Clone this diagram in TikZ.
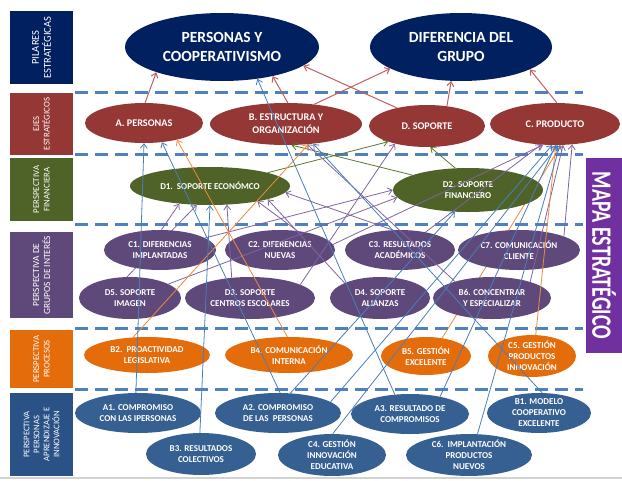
\documentclass[tikz,border=0pt]{standalone}
\usepackage{fontspec}
\setmainfont{Carlito}
\usetikzlibrary{shapes.geometric,arrows.meta}
\pgfdeclarelayer{background}
\pgfsetlayers{background,main}

\definecolor{pilarblue}{HTML}{002060}
\definecolor{ejered}{HTML}{953735}
\definecolor{finolive}{HTML}{4F6228}
\definecolor{grupopurple}{HTML}{5F497A}
\definecolor{procorange}{HTML}{E46C0A}
\definecolor{persblue}{HTML}{376092}
\definecolor{persbox}{HTML}{2A5286}
\definecolor{mapapurple}{HTML}{7030A0}
\definecolor{sepblue}{HTML}{4F81BD}
\definecolor{linkred}{HTML}{C0605E}
\definecolor{linkgreen}{HTML}{5A7A2A}
\definecolor{linkpurple}{HTML}{8064A2}
\definecolor{linkblue}{HTML}{4A7EBB}
\definecolor{linkorange}{HTML}{F08A3C}

\tikzset{
  band/.style={ % perspective label on the left
    rectangle, rotate=90, inner sep=1pt, text=white, align=center,
    font=\fontsize{8.8}{10.5}\selectfont
  },
  obj/.style={ % objective bubble
    ellipse, inner sep=0pt, text=white, align=center,
    font=\bfseries\fontsize{9}{11}\selectfont
  },
  eje/.style={obj, fill=ejered, font=\bfseries\fontsize{10.2}{13}\selectfont},
  pilar/.style={obj, fill=pilarblue, font=\bfseries\fontsize{15.5}{19}\selectfont},
  wh/.style 2 args={minimum width=#1pt, minimum height=#2pt},
  sep/.style={sepblue, line width=3pt, dash pattern=on 13pt off 7pt},
  link/.style={->, line width=0.8pt},
  lred/.style={link, linkred, line width=1pt},
  lgreen/.style={link, linkgreen},
  lpurple/.style={link, linkpurple},
  lblue/.style={link, linkblue},
  lorange/.style={link, linkorange}
}

\begin{document}
\begin{tikzpicture}[x=1pt, y=-1pt, >={Straight Barb[length=4.5pt,width=7pt]}]
  \useasboundingbox (0,0) rectangle (622,480);

  % perspectives
  \node[band, fill=pilarblue, wh={73}{63}, font=\fontsize{10.5}{12}\selectfont] (pilares) at (41.5,47.5) {PILARES\\ESTRATÉGICAS};
  \node[band, fill=ejered, wh={62}{63}] (ejes) at (41.5,124) {EJES\\ESTRATÉGICOS};
  \node[band, fill=finolive, wh={63}{63}] (financiera) at (41.5,189.5) {PERSPECTIVA\\FINANCIERA};
  \node[band, fill=grupopurple, wh={86}{63}, font=\fontsize{9.4}{11}\selectfont] (grupos) at (41.5,275) {PERSPECTIVA DE\\GRUPOS DE INTERÉS};
  \node[band, fill=procorange, wh={58}{63}] (procesos) at (41.5,359) {PERSPECTIVA\\PROCESOS};
  \node[band, fill=persbox, wh={83}{63}, font=\fontsize{8.6}{10}\selectfont] (personas) at (41.5,434.5) {PERSPECTIVA\\PERSONAS\\APRENDIZAJE E\\INNOVACIÓN};
  \node[fill=mapapurple, wh={195}{36}, rotate=-90, inner sep=0pt, text=white,
        font=\bfseries\fontsize{20}{20}\selectfont] (mapa) at (604,255.5) {\scalebox{1}[1.4]{MAPA ESTRATÉGICO}};

  \draw[sep] (75,92.5) -- (583,92.5);
  \draw[sep] (75,154) -- (583,154);
  \draw[sep] (75,224) -- (583,224);
  \draw[sep] (75,328) -- (583,328);
  \draw[sep] (75,389) -- (583,389);
  \draw[gray!35, line width=2pt] (0,478) -- (622,478);

  % pillars and axes
  \node[pilar, wh={194}{68}] (pc) at (222,47) {PERSONAS Y\\COOPERATIVISMO};
  \node[pilar, wh={182}{68}] (dg) at (461,47) {DIFERENCIA DEL\\GRUPO};
  \node[eje, wh={118}{40}] (ea) at (144,123) {A. PERSONAS};
  \node[eje, wh={152}{42}] (eb) at (286,124) {B. ESTRUCTURA Y\\ORGANIZACIÓN};
  \node[eje, wh={116}{42}] (ed) at (427,126) {D. SOPORTE};
  \node[eje, wh={130}{42}] (ec) at (555,124) {C. PRODUCTO};

  % financial
  \node[obj, fill=finolive, wh={160}{38}] (d1) at (210,186) {D1.\ \ SOPORTE ECONÓMCO};
  \node[obj, fill=finolive, wh={150}{44}] (d2) at (468,190) {D2. SOPORTE\\FINANCIERO};

  % stakeholders
  \node[obj, fill=grupopurple, wh={112}{40}] (c1) at (160,250) {C1. DIFERENCIAS\\IMPLANTADAS};
  \node[obj, fill=grupopurple, wh={110}{40}] (c2) at (280,250) {C2. DIFERENCIAS\\NUEVAS};
  \node[obj, fill=grupopurple, wh={110}{40}] (c3) at (400,250) {C3. RESULTADOS\\ACADÉMICOS};
  \node[obj, fill=grupopurple, wh={122}{40}] (c7) at (519,250) {C7. COMUNICACIÓN\\CLIENTE};
  \node[obj, fill=grupopurple, wh={102}{42}] (d5) at (130,298) {D5. SOPORTE\\IMAGEN};
  \node[obj, fill=grupopurple, wh={130}{42}] (d3) at (250,298) {D3. SOPORTE\\CENTROS ESCOLARES};
  \node[obj, fill=grupopurple, wh={100}{42}] (d4) at (380,298) {D4. SOPORTE\\ALIANZAS};
  \node[obj, fill=grupopurple, wh={118}{42}] (b6) at (492,298) {B6. CONCENTRAR\\Y ESPECIALIZAR};

  % processes
  \node[obj, fill=procorange, wh={126}{36}] (b2) at (147,355) {B2.\ \ PROACTIVIDAD\\LEGISLATIVA};
  \node[obj, fill=procorange, wh={128}{36}] (b4) at (289,355) {B4. COMUNICACIÓN\\INTERNA};
  \node[obj, fill=procorange, wh={90}{38}] (b5) at (426,356) {B5. GESTIÓN\\EXCELENTE};
  \node[obj, fill=procorange, wh={88}{38}] (c5) at (532,356) {C5. GESTIÓN\\PRODUCTOS\\INNOVACIÓN};

  % people, learning, innovation
  \node[obj, fill=persblue, wh={126}{40}] (a1) at (138,413) {A1. COMPROMISO\\CON LAS IPERSONAS};
  \node[obj, fill=persblue, wh={126}{40}] (a2) at (278,413) {A2. COMPROMISO\\DE LAS\ \ PERSONAS};
  \node[obj, fill=persblue, wh={118}{40}] (a3) at (410,414) {A3. RESULTADO DE\\COMPROMISOS};
  \node[obj, fill=persblue, wh={104}{40}] (b1) at (539,413) {B1. MODELO\\COOPERATIVO\\EXCELENTE};
  \node[obj, fill=persblue, wh={110}{42}] (b3) at (201,454) {B3. RESULTADOS\\COLECTIVOS};
  \node[obj, fill=persblue, wh={108}{42}] (c4) at (332,455) {C4. GESTIÓN\\INNOVACIÓN\\EDUCATIVA};
  \node[obj, fill=persblue, wh={126}{40}] (c6) at (469,455) {C6.\ \ IMPLANTACIÓN\\PRODUCTOS\\NUEVOS};

  % axes -> pillars
  \draw[lred] (ea.87) -- (pc.201);
  \draw[lred] (eb.85) -- (pc.330);
  \draw[lred] (eb.35) -- (dg.197);
  \draw[lred] (ed.149) -- (pc.347);
  \draw[lred] (ed.45) -- (dg.254);
  \draw[lred] (ec.85) -- (dg.342);

  % financial -> axes
  \draw[lgreen] (d1.13) -- (ed.202);
  \draw[lgreen] (d2.120) -- (ed.279);
  \draw[lgreen] (d2.165) -- (eb.285);

  % stakeholders
  \draw[lpurple] (c1.86) -- (d1.210);
  \draw[lpurple] (d3.132) -- (d1.312);
  \draw[lpurple] (c2.48) -- (d1.342);
  \draw[lpurple] (d4.157) -- (d1.347);
  \draw[lpurple] (c3.110) -- (d1.355);
  \draw[lpurple] (c1.15) -- (d2.180);
  \draw[lpurple] (d5.20) -- (d2.186);
  \draw[lpurple] (d3.15) -- (ed.209);
  \draw[lpurple] (c2.6) -- (ec.240);
  \draw[lpurple] (c3.35) -- (ec.236);
  \draw[lpurple] (c7.17) -- (ec.310);
  \draw[lpurple] (b6.23) -- (ec.291);
  \draw[lpurple] (b6.156) -- (eb.316);

  % processes
  \draw[lorange] (b4.95) -- (ea.333);
  \draw[lorange] (b2.128) -- (eb.318);
  \draw[lorange] (c5.80) -- (ec.272);

  % people, learning, innovation
  \draw[lblue] (a1.96) -- (ea.270);
  \draw[lblue] (a2.84) -- (ea.313);
  \draw[lblue] (b3.93) -- (d1.270);
  \draw[lblue] (a3.128) -- (pc.318);
  \draw[lblue] (b1.81) -- (eb.324);
  \draw[lblue] (c4.88) -- (ec.278);
  \draw[lblue] (c6.68) -- (ec.283);
  \draw[lblue] (a2.12) -- (ec.262);
  \draw[lblue] (a2.58) -- (d2.239);
  \draw[lblue] (a3.30) -- (ec.272);

  % these two pass under the bubbles
  \begin{pgfonlayer}{background}
    \draw[lpurple] (d5.98) -- (d1.235);
    \draw[lorange] (b5.48) -- (ec.286);
  \end{pgfonlayer}
\end{tikzpicture}
\end{document}
